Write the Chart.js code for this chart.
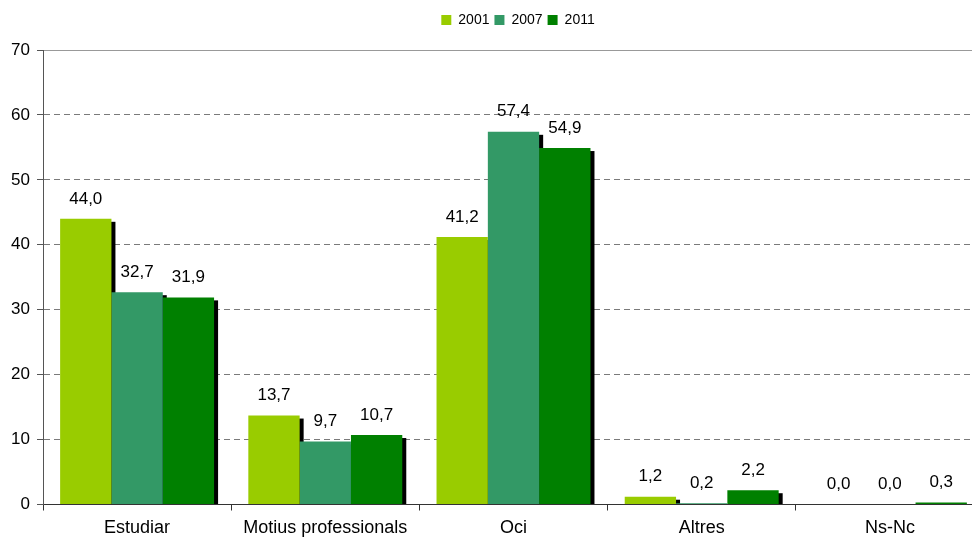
<!DOCTYPE html>
<html>
<head>
<meta charset="utf-8">
<script src="https://cdn.jsdelivr.net/npm/chart.js@4"></script>
<style>
  html, body { margin: 0; padding: 0; background: #fff; overflow: hidden; }
  #wrap { width: 972px; height: 538px; overflow: hidden; }
  canvas { display: block; }
</style>
</head>
<body>
<div id="wrap"><canvas id="chart" width="984" height="538"></canvas></div>
<script>
const categories = ['Estudiar', 'Motius professionals', 'Oci', 'Altres', 'Ns-Nc'];
const years = ['2001', '2007', '2011'];
const values2001 = [44.0, 13.7, 41.2, 1.2, 0.0];
const values2007 = [32.7, 9.7, 57.4, 0.2, 0.0];
const values2011 = [31.9, 10.7, 54.9, 2.2, 0.3];
const yTicks = [0, 10, 20, 30, 40, 50, 60, 70];
const colors = ['#99CC00', '#339966', '#008000'];

const FONT = "'Liberation Sans', Arial, sans-serif";

function fmt(v) {
  return v.toFixed(1).replace('.', ',');
}

// black drop shadow to the right of each bar, drawn before the bars
const barShadow = {
  id: 'barShadow',
  beforeDatasetsDraw(chart) {
    const ctx = chart.ctx;
    ctx.save();
    ctx.fillStyle = '#000';
    chart.data.datasets.forEach((ds, i) => {
      chart.getDatasetMeta(i).data.forEach(bar => {
        const h = bar.base - bar.y - 3;
        if (h <= 0) return;
        ctx.fillRect(bar.x - bar.width / 2 + 4, bar.y + 3, bar.width, h);
      });
    });
    ctx.restore();
  }
};

const valueLabels = {
  id: 'valueLabels',
  afterDatasetsDraw(chart) {
    const ctx = chart.ctx;
    ctx.save();
    ctx.font = '17px ' + FONT;
    ctx.fillStyle = '#000';
    ctx.textAlign = 'center';
    ctx.textBaseline = 'middle';
    chart.data.datasets.forEach((ds, i) => {
      chart.getDatasetMeta(i).data.forEach((bar, j) => {
        ctx.fillText(fmt(ds.data[j]), bar.x, bar.y - 20);
      });
    });
    ctx.restore();
  }
};

// legend: fixed height band at top, nudged right/down like the original
const legendPlace = {
  id: 'legendPlace',
  beforeInit(chart) {
    const fit = chart.legend.fit;
    chart.legend.fit = function () {
      fit.call(this);
      this.height = 50;
    };
  },
  afterLayout(chart) {
    const lg = chart.legend;
    lg.left += 26;
    lg.right += 26;
    lg.top += 8;
    lg.bottom += 8;
  }
};

new Chart(document.getElementById('chart'), {
  type: 'bar',
  data: {
    labels: categories,
    datasets: [
      { label: years[0], data: values2001, backgroundColor: colors[0] },
      { label: years[1], data: values2007, backgroundColor: colors[1] },
      { label: years[2], data: values2011, backgroundColor: colors[2] }
    ]
  },
  options: {
    responsive: false,
    animation: false,
    events: [],
    layout: { padding: 0 },
    datasets: {
      bar: { categoryPercentage: 0.818, barPercentage: 1.0, borderWidth: 0 }
    },
    plugins: {
      tooltip: { enabled: false },
      legend: {
        position: 'top',
        labels: {
          boxWidth: 10,
          boxHeight: 10,
          padding: 5,
          color: '#000',
          font: { family: FONT, size: 14 }
        }
      }
    },
    scales: {
      x: {
        afterFit(scale) { scale.height = 33.5; },
        grid: {
          offset: true,
          drawOnChartArea: false,
          tickLength: 6,
          tickColor: '#333'
        },
        border: { color: '#333', width: 1 },
        ticks: { color: '#000', padding: 7, font: { family: FONT, size: 18 } }
      },
      y: {
        min: 0,
        max: 70,
        afterFit(scale) { scale.width = 43; },
        afterBuildTicks(scale) { scale.ticks = yTicks.map(v => ({ value: v })); },
        grid: {
          tickLength: 6,
          tickColor: '#555',
          tickBorderDash: [],
          color: c => c.tick.value === 0 ? '#333' : (c.tick.value === 70 ? '#999' : '#7a7a7a')
        },
        border: {
          color: '#555',
          width: 1,
          dash: c => (c.tick && (c.tick.value === 0 || c.tick.value === 70)) ? [] : [6, 4]
        },
        ticks: { color: '#000', padding: 7, font: { family: FONT, size: 17 } }
      }
    }
  },
  plugins: [barShadow, valueLabels, legendPlace]
});
</script>
</body>
</html>
